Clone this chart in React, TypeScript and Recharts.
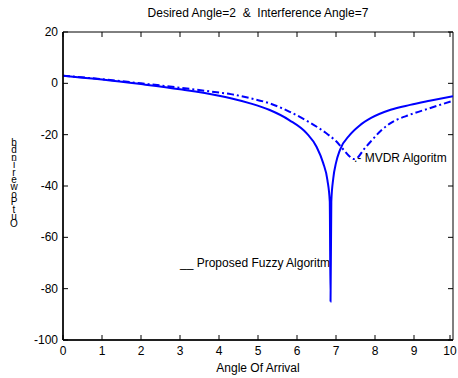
import { LineChart, Line, XAxis, YAxis, ReferenceArea } from "recharts";

const xTicks = [0, 1, 2, 3, 4, 5, 6, 7, 8, 9, 10];
const yTicks = [-100, -80, -60, -40, -20, 0, 20];

const fuzzyX = [0, 1, 2, 3, 4, 4.3, 4.8, 5.3, 5.8, 6.25, 6.5, 6.67, 6.78, 6.84, 6.86, 6.88, 6.93, 7.0, 7.1, 7.36, 7.6, 7.9, 8.4, 8.9, 9.4, 10];
const fuzzyY = [3, 1.5, -0.3, -2.3, -4.8, -5.8, -7.8, -10.4, -14.3, -19.5, -24.7, -31, -37.7, -46, -85, -46, -37, -31, -26, -20, -16.5, -13.5, -10.3, -8.4, -6.8, -5];

const mvdrX = [0, 1, 2, 3, 4, 4.3, 4.8, 5.3, 5.8, 6.3, 6.8, 7.0, 7.2, 7.35, 7.45, 7.55, 7.7, 7.9, 8.15, 8.4, 8.9, 9.4, 10];
const mvdrY = [3, 1.6, 0, -1.7, -3.6, -4.2, -5.8, -7.8, -11, -15, -20, -22.5, -26, -28.5, -29.5, -29, -26, -22.5, -18.5, -15.5, -12.2, -9.7, -6.8];

// ylabel drawn as stacked upright letters, top to bottom
const yLabelChars = ["b", "d", "n", "i", "r", "e", "w", "o", "P", "t", "u", "O"];

const FONT = "'Liberation Sans', Arial, sans-serif";
const TOP = 32;
const BOTTOM = 340;
const LEFT = 63;
const RIGHT = 453;

const fuzzy = fuzzyX.map((x, i) => ({ x, y: fuzzyY[i] }));
const mvdr = mvdrX.map((x, i) => ({ x, y: mvdrY[i] }));

function XTick(props: any) {
  const { x, payload } = props;
  return (
    <g>
      <line x1={x} y1={BOTTOM} x2={x} y2={BOTTOM - 5} stroke="#000" />
      <line x1={x} y1={TOP} x2={x} y2={TOP + 5} stroke="#000" />
      <text x={x} y={BOTTOM + 15} textAnchor="middle" fontSize={12} fontFamily={FONT} fill="#000">
        {payload.value}
      </text>
    </g>
  );
}

function YTick(props: any) {
  const { y, payload } = props;
  return (
    <g>
      <line x1={LEFT} y1={y} x2={LEFT + 5} y2={y} stroke="#000" />
      <line x1={RIGHT} y1={y} x2={RIGHT - 5} y2={y} stroke="#000" />
      <text x={LEFT - 5} y={y + 4} textAnchor="end" fontSize={12} fontFamily={FONT} fill="#000">
        {payload.value}
      </text>
    </g>
  );
}

export default function App() {
  return (
    <div style={{ position: "absolute", left: 0, top: 0, width: 458, height: 378, background: "#fff" }}>
      <LineChart width={458} height={378} margin={{ top: TOP, right: 458 - RIGHT, left: 0, bottom: 0 }}>
        <XAxis
          dataKey="x"
          type="number"
          domain={[0, 10]}
          ticks={xTicks}
          height={38}
          tickLine={false}
          tick={<XTick />}
          axisLine={{ stroke: "#000", strokeWidth: 1.5 }}
          allowDataOverflow
        />
        <YAxis
          type="number"
          domain={[-100, 20]}
          ticks={yTicks}
          width={LEFT}
          tickLine={false}
          tick={<YTick />}
          axisLine={{ stroke: "#000", strokeWidth: 1.5 }}
          allowDataOverflow
        />
        <ReferenceArea x1={0} x2={10} y1={-100} y2={20} fill="none" stroke="#000" strokeWidth={1} />
        <Line
          data={mvdr}
          dataKey="y"
          type="monotone"
          stroke="#0000ff"
          strokeWidth={2}
          strokeDasharray="7 3 2 3"
          dot={false}
          isAnimationActive={false}
        />
        <Line
          data={fuzzy}
          dataKey="y"
          type="monotone"
          stroke="#0000ff"
          strokeWidth={2}
          dot={false}
          isAnimationActive={false}
        />
        <text x={258} y={17} textAnchor="middle" fontSize={12} fontFamily={FONT} fill="#000" style={{ whiteSpace: "pre" }}>
          {"Desired Angle=2  &  Interference Angle=7"}
        </text>
        <text x={258} y={372} textAnchor="middle" fontSize={12} fontFamily={FONT} fill="#000">
          Angle Of Arrival
        </text>
        <text x={354} y={162} fontSize={12} fontFamily={FONT} fill="#000">
          .- MVDR Algoritm
        </text>
        <text x={180} y={267} fontSize={12} fontFamily={FONT} fill="#000">
          __ Proposed Fuzzy Algoritm
        </text>
        <text x={14} y={146} textAnchor="middle" fontSize={10} fontFamily={FONT} fill="#000">
          {yLabelChars.map((c, i) => (
            <tspan key={i} x={14} dy={i === 0 ? 0 : 7.4}>
              {c}
            </tspan>
          ))}
        </text>
      </LineChart>
    </div>
  );
}
